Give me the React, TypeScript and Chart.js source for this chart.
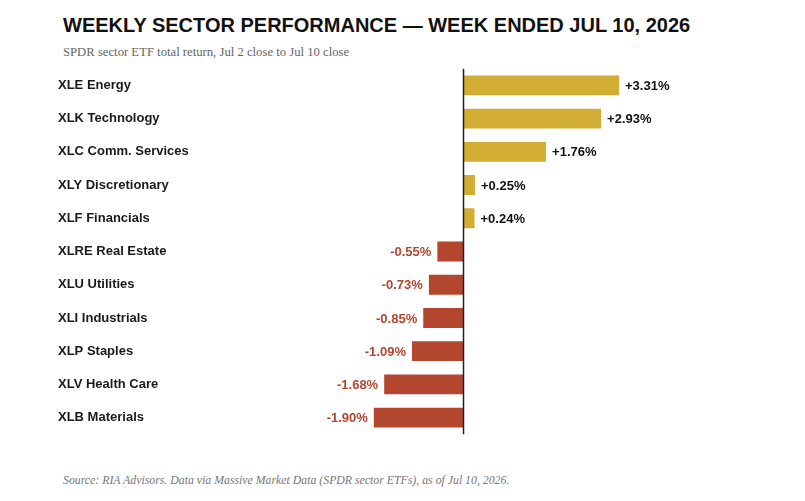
import React, { useEffect, useRef } from "react";
import { Chart, registerables } from "chart.js";

Chart.register(...registerables);

const categories = [
  "XLE Energy",
  "XLK Technology",
  "XLC Comm. Services",
  "XLY Discretionary",
  "XLF Financials",
  "XLRE Real Estate",
  "XLU Utilities",
  "XLI Industrials",
  "XLP Staples",
  "XLV Health Care",
  "XLB Materials",
];
const returnsPct = [3.31, 2.93, 1.76, 0.25, 0.24, -0.55, -0.73, -0.85, -1.09, -1.68, -1.9];

const GOLD = "#D1AD33";
const RED = "#B3462F";
const SANS = "'Liberation Sans', Arial, Helvetica, sans-serif";
const SERIF = "'Liberation Serif', 'Times New Roman', serif";

const zeroLinePlugin = {
  id: "zeroLine",
  afterDatasetsDraw(chart: any) {
    const { ctx, chartArea, scales } = chart;
    const x = Math.round(scales.x.getPixelForValue(0)) + 0.5;
    ctx.save();
    ctx.strokeStyle = "#222";
    ctx.lineWidth = 1.5;
    ctx.beginPath();
    ctx.moveTo(x, chartArea.top);
    ctx.lineTo(x, chartArea.bottom);
    ctx.stroke();
    ctx.restore();
  },
};

const valueLabelPlugin = {
  id: "valueLabels",
  afterDatasetsDraw(chart: any) {
    const { ctx } = chart;
    const meta = chart.getDatasetMeta(0);
    const data = chart.data.datasets[0].data as number[];
    ctx.save();
    ctx.font = `bold 13px ${SANS}`;
    ctx.textBaseline = "middle";
    meta.data.forEach((bar: any, i: number) => {
      const v = data[i];
      const txt = (v >= 0 ? "+" : "") + v.toFixed(2) + "%";
      if (v >= 0) {
        ctx.fillStyle = "#111";
        ctx.textAlign = "left";
        ctx.fillText(txt, bar.x + 6, bar.y + 1);
      } else {
        ctx.fillStyle = RED;
        ctx.textAlign = "right";
        ctx.fillText(txt, bar.x - 6, bar.y + 1);
      }
    });
    ctx.restore();
  },
};

function BarChart() {
  const ref = useRef<HTMLCanvasElement | null>(null);
  useEffect(() => {
    if (!ref.current) return;
    const chart = new Chart(ref.current, {
      type: "bar",
      data: {
        labels: categories,
        datasets: [
          {
            data: returnsPct,
            backgroundColor: returnsPct.map((v) => (v >= 0 ? GOLD : RED)),
            borderWidth: 0,
            barPercentage: 0.6,
            categoryPercentage: 1,
          },
        ],
      },
      options: {
        indexAxis: "y",
        animation: false,
        responsive: false,
        maintainAspectRatio: false,
        layout: { padding: { left: 50, right: 122, top: 2, bottom: 3 } },
        plugins: {
          legend: { display: false },
          tooltip: { enabled: false },
          title: { display: false },
        },
        scales: {
          x: {
            display: false,
            min: -4,
            max: 4.5,
          },
          y: {
            grid: { display: false },
            border: { display: false },
            afterFit(scale: any) {
              scale.width = 217;
            },
            ticks: {
              crossAlign: "far",
              color: "#1a1a1a",
              font: { family: SANS, size: 13, weight: "bold" },
            },
          },
        },
      },
      plugins: [zeroLinePlugin, valueLabelPlugin],
    });
    return () => chart.destroy();
  }, []);
  return <canvas ref={ref} width={789} height={387} style={{ display: "block" }} />;
}

export default function App() {
  return (
    <div style={{ position: "relative", width: 789, height: 485, background: "#fff" }}>
      <div
        style={{
          position: "absolute",
          left: 55,
          top: 6,
          fontFamily: SANS,
          fontWeight: "bold",
          fontSize: 20,
          color: "#111",
          whiteSpace: "nowrap",
        }}
      >
        WEEKLY SECTOR PERFORMANCE — WEEK ENDED JUL 10, 2026
      </div>
      <div
        style={{
          position: "absolute",
          left: 55,
          top: 37,
          fontFamily: SERIF,
          fontSize: 12.7,
          color: "#666",
          whiteSpace: "nowrap",
        }}
      >
        SPDR sector ETF total return, Jul 2 close to Jul 10 close
      </div>
      <div style={{ position: "absolute", left: 0, top: 50 }}>
        <BarChart />
      </div>
      <div
        style={{
          position: "absolute",
          left: 55,
          top: 465,
          fontFamily: SERIF,
          fontStyle: "italic",
          fontSize: 11.8,
          color: "#777",
          whiteSpace: "nowrap",
        }}
      >
        Source: RIA Advisors. Data via Massive Market Data (SPDR sector ETFs), as of Jul 10, 2026.
      </div>
    </div>
  );
}
